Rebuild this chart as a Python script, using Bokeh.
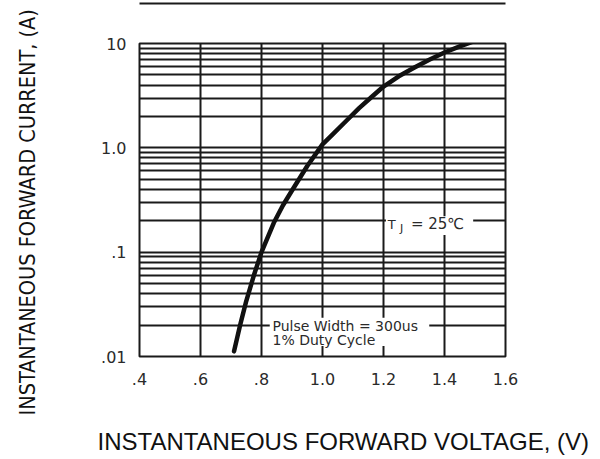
from bokeh.plotting import figure
from bokeh.models import FixedTicker, Label, BoxAnnotation, Title, LinearAxis
from bokeh.embed import file_html
from bokeh.resources import INLINE

# ---- data ----
voltage = [0.71, 0.73, 0.75, 0.775, 0.80, 0.84, 0.87, 0.90, 0.95, 1.00, 1.035,
           1.07, 1.12, 1.16, 1.20, 1.25, 1.30, 1.35, 1.40, 1.45, 1.50]
current = [0.0112, 0.02, 0.034, 0.06, 0.10, 0.19, 0.28, 0.39, 0.67, 1.08, 1.36,
           1.72, 2.4, 3.05, 3.87, 4.85, 5.85, 7.0, 8.2, 9.4, 10.6]

x_ticks = [0.4, 0.6, 0.8, 1.0, 1.2, 1.4, 1.6]
x_tick_labels = [".4", ".6", ".8", "1.0", "1.2", "1.4", "1.6"]
y_ticks = [0.01, 0.1, 1.0, 10.0]
y_tick_labels = [".01", ".1", "1.0", "10"]
y_minor_multipliers = [2, 3, 4, 5, 6, 7, 8, 9]

x_title = "INSTANTANEOUS FORWARD VOLTAGE, (V)"
y_title = "INSTANTANEOUS FORWARD CURRENT, (A)"
note_pulse = ["Pulse Width = 300us", "1% Duty Cycle"]
note_temp = ["T", "J", "= 25\u2103"]

INK = "#1a1a1a"
TXT = "#2a2a2a"

p = figure(width=600, height=459, x_range=(0.4, 1.6), y_range=(0.01, 10),
           y_axis_type="log", output_backend="svg", toolbar_location=None,
           title=None, min_border_left=139, min_border_right=95,
           min_border_top=43, min_border_bottom=103)
p.background_fill_color = "white"
p.border_fill_color = "white"
p.outline_line_color = INK
p.outline_line_width = 2
p.outline_line_alpha = 1

# ticks / grid
y_minor = [m * t for t in y_ticks[:-1] for m in y_minor_multipliers]
p.xaxis.ticker = FixedTicker(ticks=x_ticks)
p.yaxis.ticker = FixedTicker(ticks=y_ticks)
p.xgrid.ticker = FixedTicker(ticks=x_ticks)
p.ygrid.ticker = FixedTicker(ticks=y_ticks, minor_ticks=y_minor)
p.xaxis.major_label_overrides = dict(zip(x_ticks, x_tick_labels))
p.yaxis.major_label_overrides = dict(zip(y_ticks, y_tick_labels))

for g in (p.xgrid, p.ygrid):
    g.grid_line_color = INK
    g.grid_line_width = 2
    g.grid_line_alpha = 1
p.ygrid.minor_grid_line_color = INK
p.ygrid.minor_grid_line_width = 2
p.ygrid.minor_grid_line_alpha = 1

for ax in (p.xaxis, p.yaxis):
    ax.axis_line_color = None
    ax.major_tick_line_color = None
    ax.minor_tick_line_color = None
    ax.major_tick_out = 0
    ax.major_tick_in = 0
    ax.minor_tick_out = 0
    ax.minor_tick_in = 0
    ax.major_label_text_font = "DejaVu Sans"
    ax.major_label_text_font_size = "16px"
    ax.major_label_text_color = TXT
p.yaxis.major_label_standoff = 13
p.xaxis.major_label_standoff = 16

# curve
p.line(voltage, current, line_color="#111111", line_width=4.5, line_cap="round",
       line_join="round")

# white boxes behind in-plot notes
p.add_layout(BoxAnnotation(left=0.827, right=1.35, bottom=0.0126, top=0.0235,
                           fill_color="white", fill_alpha=1, line_color=None))
p.add_layout(BoxAnnotation(left=1.208, right=1.494, bottom=0.146, top=0.221,
                           fill_color="white", fill_alpha=1, line_color=None))

p.add_layout(Label(x=0.836, y=0.0197, text=note_pulse[0], text_font="DejaVu Sans",
                   text_font_size="14px", text_color=TXT, text_baseline="middle"))
p.add_layout(Label(x=0.836, y=0.0145, text=note_pulse[1], text_font="DejaVu Sans",
                   text_font_size="14px", text_color=TXT, text_baseline="middle"))

p.add_layout(Label(x=1.214, y=0.185, text=note_temp[0], text_font="DejaVu Sans",
                   text_font_size="13px", text_color=TXT, text_baseline="middle"))
p.add_layout(Label(x=1.254, y=0.168, text=note_temp[1], text_font="DejaVu Sans",
                   text_font_size="11px", text_color=TXT, text_baseline="middle"))
p.add_layout(Label(x=1.290, y=0.185, text=note_temp[2], text_font="DejaVu Sans",
                   text_font_size="15px", text_color=TXT, text_baseline="middle"))

# axis titles as side-panel titles (with blank spacers to push them outward)
p.add_layout(Title(text=" ", text_font_size="30px", standoff=0), "below")
p.add_layout(Title(text=x_title, align="left", offset=-42, standoff=6,
                   text_font="Liberation Sans", text_font_style="normal",
                   text_font_size="24px", text_color="#111111"), "below")
p.add_layout(Title(text=" ", text_font_size="46px", standoff=0), "left")
p.add_layout(Title(text=y_title, align="left", offset=-59, standoff=10,
                   text_font="DejaVu Sans Condensed, Liberation Sans",
                   text_font_style="normal",
                   text_font_size="21.5px", text_color="#111111"), "left")

# rule at the top: spacer + bare axis line
p.add_layout(Title(text=" ", text_font_size="34px", standoff=0), "above")
rule = LinearAxis(ticker=FixedTicker(ticks=[]), axis_line_color=INK, axis_line_width=2,
                  major_tick_line_color=None, minor_tick_line_color=None,
                  major_label_text_font_size="0px")
p.add_layout(rule, "above")

open("out.html", "w").write(file_html(p, INLINE))
